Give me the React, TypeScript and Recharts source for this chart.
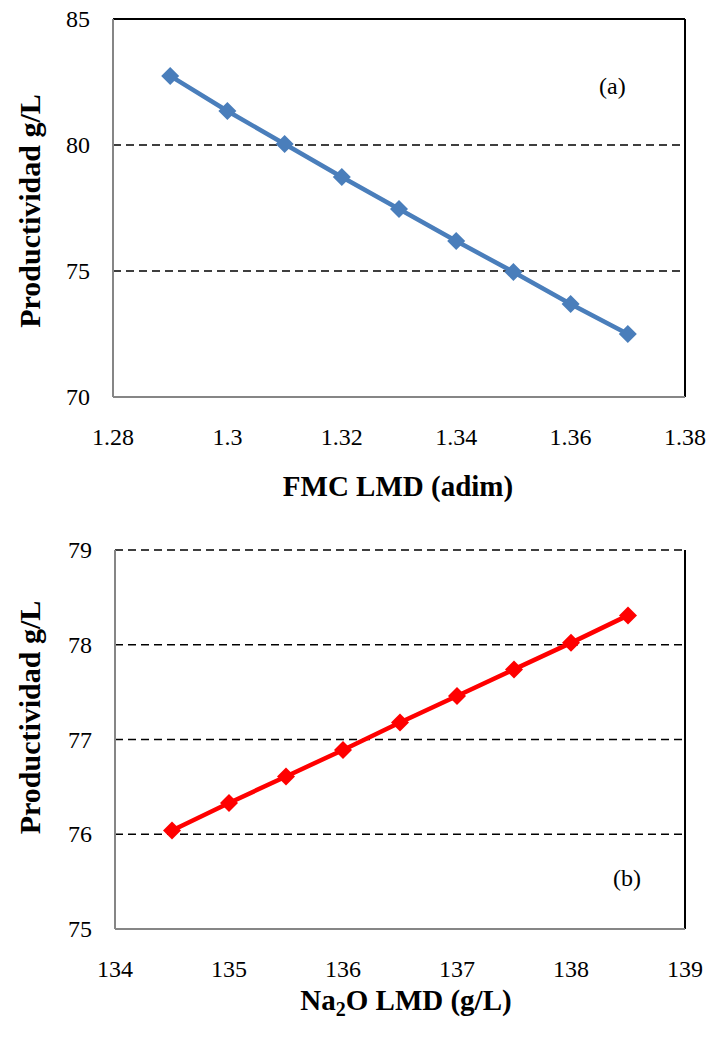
import { LineChart, Line, XAxis, YAxis, CartesianGrid, ReferenceLine, Label } from 'recharts';

const fmcValues = [1.29, 1.3, 1.31, 1.32, 1.33, 1.34, 1.35, 1.36, 1.37];
const prodFmc = [82.74, 81.35, 80.04, 78.73, 77.46, 76.19, 74.96, 73.69, 72.5];
const fmcTicks = [1.28, 1.3, 1.32, 1.34, 1.36, 1.38];
const prodTicksA = [70, 75, 80, 85];

const na2oValues = [134.5, 135, 135.5, 136, 136.5, 137, 137.5, 138, 138.5];
const prodNa2o = [76.04, 76.33, 76.61, 76.89, 77.18, 77.46, 77.74, 78.02, 78.31];
const na2oTicks = [134, 135, 136, 137, 138, 139];
const prodTicksB = [75, 76, 77, 78, 79];

const dataA = fmcValues.map((x, i) => ({ x, y: prodFmc[i] }));
const dataB = na2oValues.map((x, i) => ({ x, y: prodNa2o[i] }));

const serif = '"Liberation Serif"';
const axisGray = '#868686';

function Diamond(props: any) {
  const { cx, cy, fill } = props;
  if (cx == null || cy == null) return null;
  const r = 9;
  return (
    <polygon
      points={`${cx},${cy - r} ${cx + r},${cy} ${cx},${cy + r} ${cx - r},${cy}`}
      fill={fill}
    />
  );
}

function YTick(props: any) {
  const { x, y, payload } = props;
  return (
    <text x={x - 15} y={y} dy={8} textAnchor="end" fontFamily="Liberation Serif" style={{ fontFamily: serif }} fontSize={24} fill="#000">
      {payload.value}
    </text>
  );
}

function XTick(props: any) {
  const { x, y, payload } = props;
  return (
    <text x={x} y={y} dy={40} textAnchor="middle" fontFamily="Liberation Serif" style={{ fontFamily: serif }} fontSize={24} fill="#000">
      {payload.value}
    </text>
  );
}

function yTitle(offset: number) {
  return (props: any) => {
    const vb = props.viewBox || {};
    const cy = vb.y + vb.height / 2 + offset;
    return (
      <text
        x={0}
        y={0}
        transform={`translate(40, ${cy}) rotate(-90)`}
        textAnchor="middle"
        fontFamily="Liberation Serif"
        style={{ fontFamily: serif }}
        fontSize={30}
        fontWeight="bold"
        fill="#000"
      >
        Productividad g/L
      </text>
    );
  };
}

export default function App() {
  return (
    <div style={{ position: 'absolute', left: 0, top: 0, width: 710, height: 1037, background: '#fff', fontFamily: serif }}>
      <div style={{ position: 'absolute', left: 0, top: 0 }}>
        <LineChart width={710} height={520} data={dataA} margin={{ top: 19, right: 25, left: 0, bottom: 0 }}>
          <CartesianGrid vertical={false} stroke="#000" strokeWidth={1.3} strokeDasharray="8 5" />
          <XAxis
            dataKey="x"
            type="number"
            domain={[1.28, 1.38]}
            ticks={fmcTicks}
            tick={<XTick />}
            tickLine={false}
            axisLine={{ stroke: axisGray, strokeWidth: 2 }}
            height={123}
          >
            <Label
              content={(p: any) => {
                const vb = p.viewBox || {};
                return (
                  <text x={398} y={vb.y + 99} textAnchor="middle" fontFamily="Liberation Serif" style={{ fontFamily: serif }} fontSize={29} fontWeight="bold" fill="#000">
                    FMC LMD (adim)
                  </text>
                );
              }}
            />
          </XAxis>
          <YAxis
            type="number"
            domain={[70, 85]}
            ticks={prodTicksA}
            tick={<YTick />}
            tickLine={false}
            axisLine={{ stroke: axisGray, strokeWidth: 2 }}
            width={113}
          >
            <Label content={yTitle(3)} />
          </YAxis>
          <ReferenceLine y={85} stroke="#000" strokeWidth={2} />
          <ReferenceLine x={1.38} stroke="#000" strokeWidth={2} />
          <Line
            dataKey="y"
            stroke="#4a7ebb"
            strokeWidth={4.5}
            dot={<Diamond fill="#4a7ebb" />}
            activeDot={false}
            isAnimationActive={false}
          />
        </LineChart>
      </div>
      <div style={{ position: 'absolute', left: 0, top: 520 }}>
        <LineChart width={710} height={517} data={dataB} margin={{ top: 30, right: 25, left: 0, bottom: 0 }}>
          <CartesianGrid vertical={false} stroke="#000" strokeWidth={1.3} strokeDasharray="8 5" />
          <XAxis
            dataKey="x"
            type="number"
            domain={[134, 139]}
            ticks={na2oTicks}
            tick={<XTick />}
            tickLine={false}
            axisLine={{ stroke: axisGray, strokeWidth: 2 }}
            height={108}
          >
            <Label
              content={(p: any) => {
                const vb = p.viewBox || {};
                return (
                  <text x={406} y={vb.y + 81} textAnchor="middle" fontFamily="Liberation Serif" style={{ fontFamily: serif }} fontSize={29} fontWeight="bold" fill="#000">
                    Na
                    <tspan fontSize={20} dy={6}>2</tspan>
                    <tspan dy={-6}>O LMD (g/L)</tspan>
                  </text>
                );
              }}
            />
          </XAxis>
          <YAxis
            type="number"
            domain={[75, 79]}
            ticks={prodTicksB}
            tick={<YTick />}
            tickLine={false}
            axisLine={{ stroke: axisGray, strokeWidth: 2 }}
            width={115}
          >
            <Label content={yTitle(-22)} />
          </YAxis>
          <ReferenceLine x={139} stroke="#000" strokeWidth={2} />
          <Line
            dataKey="y"
            stroke="#ff0000"
            strokeWidth={4.5}
            dot={<Diamond fill="#ff0000" />}
            activeDot={false}
            isAnimationActive={false}
          />
        </LineChart>
      </div>
      <div style={{ position: 'absolute', left: 599, top: 73, fontSize: 24 }}>(a)</div>
      <div style={{ position: 'absolute', left: 613, top: 865, fontSize: 24 }}>(b)</div>
    </div>
  );
}
